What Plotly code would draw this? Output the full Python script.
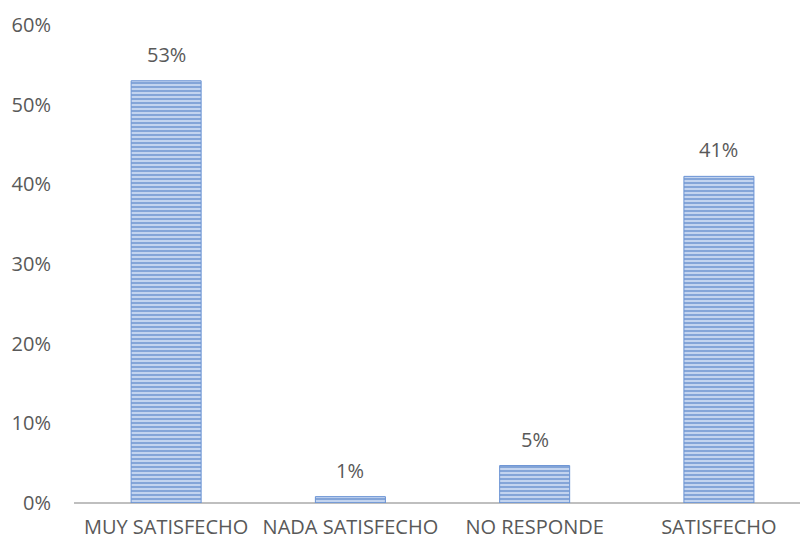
import plotly.graph_objects as go

categories = ["MUY SATISFECHO", "NADA SATISFECHO", "NO RESPONDE", "SATISFECHO"]
values = [0.53, 0.008, 0.047, 0.41]
labels = ["53%", "1%", "5%", "41%"]
tick_vals = [0, 0.1, 0.2, 0.3, 0.4, 0.5, 0.6]
tick_text = ["0%", "10%", "20%", "30%", "40%", "50%", "60%"]

font = dict(family="Open Sans, Liberation Sans, sans-serif", size=20, color="#595959")

fig = go.Figure()
fig.add_trace(go.Bar(
    x=categories, y=values, width=0.38,
    marker=dict(
        color="#C3D4EF",
        line=dict(width=1, color="#6A93D4"),
        pattern=dict(shape="-", fgcolor="#4675C2", bgcolor="#C3D4EF", size=4, solidity=0.5),
    ),
    hoverinfo="skip",
))
for c, v, t in zip(categories, values, labels):
    fig.add_annotation(x=c, y=v, text=t, showarrow=False, yanchor="bottom", yshift=11,
                       font=font)

fig.update_layout(
    width=802, height=546,
    margin=dict(l=74, r=2, t=25, b=43),
    plot_bgcolor="white", paper_bgcolor="white",
    showlegend=False, font=font,
)
fig.update_xaxes(range=[-0.5, 3.44], showgrid=False, showline=False, ticks="",
                 tickfont=font, zeroline=False, ticklabelstandoff=10)
fig.update_yaxes(range=[0, 0.6], tickvals=tick_vals, ticktext=tick_text, showgrid=False,
                 zeroline=True, zerolinecolor="#BFBFBF", zerolinewidth=2,
                 showline=False, ticks="", tickfont=font, ticklabelstandoff=22)
fig.write_html("out.html")
